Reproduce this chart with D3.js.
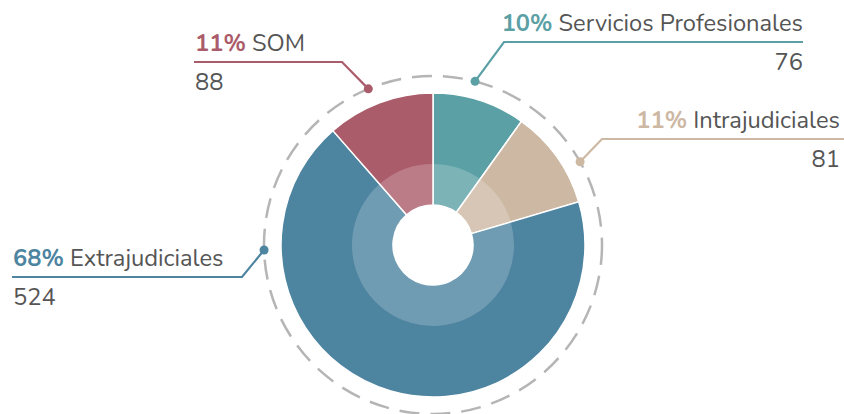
<!DOCTYPE html>
<html>
<head>
<meta charset="utf-8">
<script src="https://cdn.jsdelivr.net/npm/d3@7"></script>
<style>
  body { margin: 0; background: #fff; }
  svg { display: block; font-family: "Nunito", Lato, "Open Sans", sans-serif; }
</style>
</head>
<body>
<div id="chart"></div>
<script>
// data
const categories = ["Servicios Profesionales", "Intrajudiciales", "Extrajudiciales", "SOM"];
const values = [76, 81, 524, 88];
const colors = ["#5ba0a5", "#cdb8a3", "#4d84a0", "#ab5c6a"];

// label placement (angle of the dot on the dashed ring, leader line y, elbow x, end x)
const dotAngles = [14.4, 60.5, 268.3, 337.5];
const lineY = [42, 139, 277, 62];
const elbowX = [504, 602, 242, 342];
const endX = [803, 844, 12, 194];
const sides = ["right", "right", "left", "left"];

const width = 844, height = 414;
const cx = 433, cy = 245;
const outerR = 152, ringR = 81, holeR = 40, dashR = 169;

const data = categories.map((c, i) => ({ name: c, value: values[i], color: colors[i], i }));
const total = d3.sum(values);

const svg = d3.select("#chart")
  .append("svg")
  .attr("width", width)
  .attr("height", height)
  .attr("viewBox", [0, 0, width, height]);

const g = svg.append("g").attr("transform", `translate(${cx},${cy})`);

// dashed ring
g.append("circle")
  .attr("r", dashR)
  .attr("fill", "none")
  .attr("stroke", "#b5b5b5")
  .attr("stroke-width", 2.5)
  .attr("stroke-dasharray", "20 11");

const pie = d3.pie().sort(null).value(d => d.value);
const arcs = pie(data);

const arcOuter = d3.arc().innerRadius(holeR).outerRadius(outerR);
const arcInner = d3.arc().innerRadius(holeR).outerRadius(ringR);

g.selectAll(".slice")
  .data(arcs)
  .join("path")
  .attr("class", "slice")
  .attr("d", arcOuter)
  .attr("fill", d => d.data.color)
  .attr("stroke", "#fff")
  .attr("stroke-width", 1.5);

// lighter inner ring
g.selectAll(".inner")
  .data(arcs)
  .join("path")
  .attr("class", "inner")
  .attr("d", arcInner)
  .attr("fill", "#fff")
  .attr("fill-opacity", 0.2);

// leader lines + labels
const fmt = d3.format(".0%");
const label = svg.selectAll(".label")
  .data(data)
  .join("g")
  .attr("class", "label");

const dotPos = d => {
  const a = dotAngles[d.i] * Math.PI / 180;
  return [cx + dashR * Math.sin(a), cy - dashR * Math.cos(a)];
};

label.append("polyline")
  .attr("points", d => [dotPos(d), [elbowX[d.i], lineY[d.i]], [endX[d.i], lineY[d.i]]].map(p => p.join(",")).join(" "))
  .attr("fill", "none")
  .attr("stroke", d => d.color)
  .attr("stroke-width", 2.2);

label.append("circle")
  .attr("cx", d => dotPos(d)[0])
  .attr("cy", d => dotPos(d)[1])
  .attr("r", 4.5)
  .attr("fill", d => d.color);

const tx = d => sides[d.i] === "right" ? endX[d.i] - (endX[d.i] > 840 ? 4 : 0) : endX[d.i] + 1;
const anchor = d => sides[d.i] === "right" ? "end" : "start";

const title = label.append("text")
  .attr("x", tx)
  .attr("y", d => lineY[d.i] - 11)
  .attr("text-anchor", anchor)
  .style("font-size", "23.7px");

title.append("tspan")
  .attr("font-weight", "bold")
  .attr("fill", d => d.color)
  .text(d => fmt(d.value / total));

title.append("tspan")
  .attr("fill", "#555")
  .text(d => " " + d.name);

label.append("text")
  .attr("x", tx)
  .attr("y", d => lineY[d.i] + 28)
  .attr("text-anchor", anchor)
  .attr("fill", "#555")
  .style("font-size", "23.7px")
  .text(d => d.value);
</script>
</body>
</html>
